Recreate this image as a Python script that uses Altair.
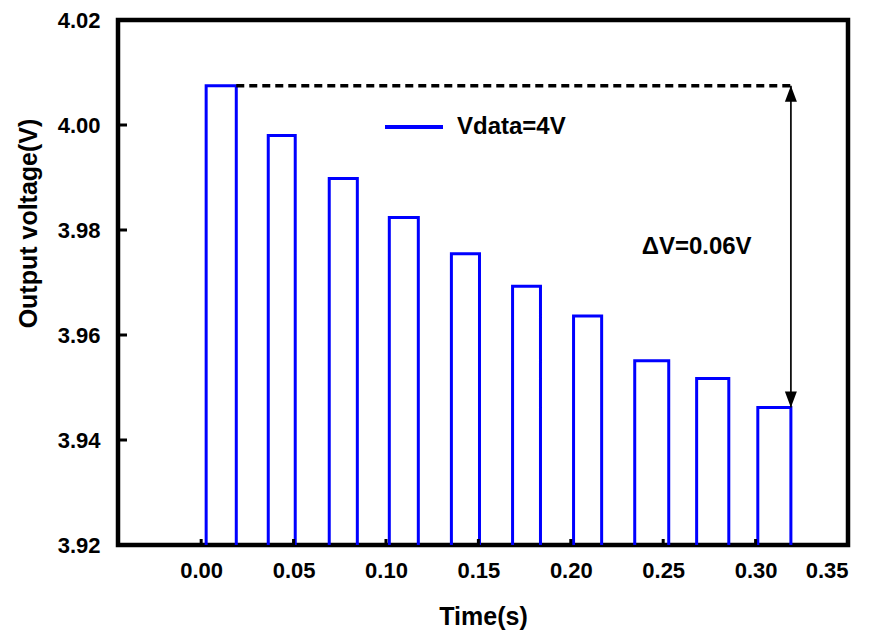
import altair as alt
import pandas as pd

# Pulse data
pulse_start = [0.0027, 0.0363, 0.0693, 0.1018, 0.1354, 0.1685, 0.2015, 0.2346, 0.2681, 0.3012]
pulse_end = [0.0190, 0.0509, 0.0845, 0.1175, 0.1506, 0.1836, 0.2167, 0.2530, 0.2855, 0.3191]
pulse_top = [4.0075, 3.9980, 3.9898, 3.9824, 3.9755, 3.9693, 3.9636, 3.9551, 3.9517, 3.9462]
low_level = 3.90

x_ticks = [0.00, 0.05, 0.10, 0.15, 0.20, 0.25, 0.30, 0.35]
y_ticks = [3.92, 3.94, 3.96, 3.98, 4.00, 4.02]

series_name = "Vdata=4V"
delta_label = "\u0394V=0.06V"

FONT = "Liberation Sans"
BLUE = "#0000FF"

rows = []
k = 0
for s, e, t in zip(pulse_start, pulse_end, pulse_top):
    for xx, yy in [(s, low_level), (s, t), (e, t), (e, low_level)]:
        rows.append({"t": xx, "v": yy, "o": k, "series": series_name})
        k += 1
wave = pd.DataFrame(rows)

W, H = 730, 525

xs = alt.Scale(domain=[-0.045, 0.35], nice=False, zero=False)
ys = alt.Scale(domain=[3.92, 4.02], nice=False, zero=False)

line = alt.Chart(wave).mark_line(strokeWidth=3, clip=True, strokeJoin="miter").encode(
    x=alt.X("t:Q", scale=xs, axis=alt.Axis(
        values=x_ticks, format=".2f", title="Time(s)", grid=False, domain=False,
        ticks=False, tickSize=0, labelPadding=32, labelBaseline="alphabetic",
        titleY=79, titleBaseline="alphabetic")),
    y=alt.Y("v:Q", scale=ys, axis=alt.Axis(
        values=y_ticks, format=".2f", title="Output voltage(V)", grid=False, domain=False,
        ticks=False, tickSize=0, labelPadding=18, titleAngle=270, titleX=-90, titleY=203,
        titleAlign="center", titleBaseline="middle")),
    order="o:Q",
    color=alt.Color("series:N", scale=alt.Scale(domain=[series_name], range=[BLUE]),
                    legend=alt.Legend(title=None, orient="none", legendX=265, legendY=76,
                                      symbolType="stroke", symbolSize=3364, symbolStrokeWidth=4,
                                      labelFontSize=24, labelFont=FONT, labelFontWeight="bold",
                                      labelColor="black", labelOffset=12)),
)

# inward ticks
ytick_df = pd.DataFrame({"v": y_ticks})
xtick_df = pd.DataFrame({"t": x_ticks})
yticks = alt.Chart(ytick_df).mark_rule(color="black", strokeWidth=3).encode(
    y=alt.Y("v:Q", scale=ys), x=alt.value(0), x2=alt.value(9))
xticks = alt.Chart(xtick_df).mark_rule(color="black", strokeWidth=3).encode(
    x=alt.X("t:Q", scale=xs), y=alt.value(H), y2=alt.value(H - 6))

# dashed reference line and arrow
top_i = 0
bot_i = len(pulse_top) - 1
ann = pd.DataFrame({
    "x1": [pulse_end[top_i]], "x2": [pulse_end[bot_i]],
    "ytop": [pulse_top[top_i]], "ybot": [pulse_top[bot_i]],
})
dashed = alt.Chart(ann).mark_rule(color="black", strokeWidth=3.5, strokeDash=[8, 5]).encode(
    x=alt.X("x1:Q", scale=xs), x2="x2:Q", y=alt.Y("ytop:Q", scale=ys))
arrow_line = alt.Chart(ann).mark_rule(color="#111111", strokeWidth=1.8).encode(
    x=alt.X("x2:Q", scale=xs), y=alt.Y("ytop:Q", scale=ys), y2="ybot:Q")
head_up = alt.Chart(ann).mark_point(shape="M0,-1L0.75,1L-0.75,1Z", size=256, filled=True,
                                    color="black", opacity=1, yOffset=8).encode(
    x=alt.X("x2:Q", scale=xs), y=alt.Y("ytop:Q", scale=ys))
head_down = alt.Chart(ann).mark_point(shape="M0,1L0.75,-1L-0.75,-1Z", size=256, filled=True,
                                      color="black", opacity=1, yOffset=-8).encode(
    x=alt.X("x2:Q", scale=xs), y=alt.Y("ybot:Q", scale=ys))

txt_df = pd.DataFrame({"t": [0.2681], "v": [3.9767], "label": [delta_label]})
delta_text = alt.Chart(txt_df).mark_text(font=FONT, fontSize=24, fontWeight="bold", color="black",
                                         align="center", baseline="middle").encode(
    x=alt.X("t:Q", scale=xs), y=alt.Y("v:Q", scale=ys), text="label:N")

chart = alt.layer(line, dashed, arrow_line, head_up, head_down, delta_text, yticks, xticks).properties(
    width=W, height=H,
    autosize=alt.AutoSizeParams(type="none"),
    padding={"left": 110, "top": 12, "right": 19, "bottom": 90},
    background="white",
).configure_view(
    stroke="black", strokeWidth=4.5
).configure_axis(
    labelFont=FONT, labelFontSize=22, labelFontWeight="bold", labelColor="black",
    titleFont=FONT, titleFontSize=25, titleFontWeight="bold", titleColor="black",
)

chart.save("out.html", embed_options={"renderer": "svg", "actions": False})
